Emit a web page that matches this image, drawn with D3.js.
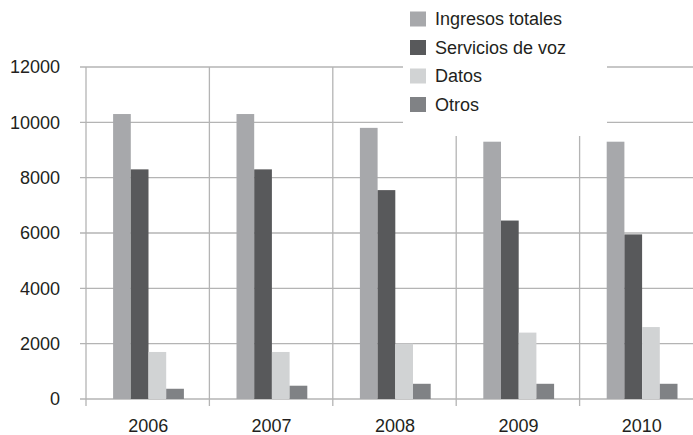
<!DOCTYPE html>
<html>
<head>
<meta charset="utf-8">
<script src="https://cdn.jsdelivr.net/npm/d3@7/dist/d3.min.js"></script>
<style>
  body { margin: 0; background: #fff; }
  svg text { font-family: "Liberation Sans", Arial, sans-serif; fill: #231f20; }
</style>
</head>
<body>
<div id="chart"></div>
<script>
// data
const years = ["2006", "2007", "2008", "2009", "2010"];
const seriesNames = ["Ingresos totales", "Servicios de voz", "Datos", "Otros"];
const ingresos = [10300, 10300, 9800, 9300, 9300];
const voz = [8300, 8300, 7550, 6450, 5950];
const datos = [1700, 1700, 2000, 2400, 2600];
const otros = [370, 480, 550, 550, 550];
const yTicks = [0, 2000, 4000, 6000, 8000, 10000, 12000];
const colors = ["#a7a8ab", "#58595b", "#d1d3d4", "#808285"];

const values = [ingresos, voz, datos, otros];
const width = 693, height = 435;

let svg = d3.select("#chart").append("svg")
    .attr("width", width)
    .attr("height", height);

let x = d3.scaleBand()
    .domain(years)
    .range([86, 703])
    .padding(0);

let y = d3.scaleLinear()
    .domain([0, 12000])
    .range([399, 67]);

// bars in a group are about 17.7px wide, 4 of them, centred in the band
let groupW = 70.8;
let xs = d3.scaleBand()
    .domain(seriesNames)
    .range([x.bandwidth() / 2 - groupW / 2 + 0.8, x.bandwidth() / 2 + groupW / 2 + 0.8]);

let gridColor = "#b4b4b4";

// horizontal grid
svg.selectAll("line.hgrid")
    .data(yTicks)
    .enter()
    .append("line")
    .attr("class", "hgrid")
    .attr("x1", 80)
    .attr("x2", width)
    .attr("y1", d => y(d))
    .attr("y2", d => y(d))
    .attr("stroke", gridColor)
    .attr("stroke-width", 1.3);

// vertical lines between categories
let bounds = years.map(d => x(d)).concat([x(years[years.length - 1]) + x.bandwidth()]);
svg.selectAll("line.vgrid")
    .data(bounds)
    .enter()
    .append("line")
    .attr("class", "vgrid")
    .attr("x1", d => d)
    .attr("x2", d => d)
    .attr("y1", y(12000))
    .attr("y2", y(0) + 7)
    .attr("stroke", gridColor)
    .attr("stroke-width", 1.3);

// legend sits on a white box that hides the grid behind it
svg.append("rect")
    .attr("x", 403)
    .attr("y", 0)
    .attr("width", 204)
    .attr("height", 136)
    .attr("fill", "#fff");

// bars
let groups = svg.selectAll("g.year")
    .data(years)
    .enter()
    .append("g")
    .attr("class", "year")
    .attr("transform", d => `translate(${x(d)},0)`);

groups.selectAll("rect")
    .data((d, i) => seriesNames.map((s, j) => ({ s: s, v: values[j][i], c: colors[j] })))
    .enter()
    .append("rect")
    .attr("x", d => xs(d.s))
    .attr("width", xs.bandwidth())
    .attr("y", d => y(d.v))
    .attr("height", d => y(0) - y(d.v))
    .attr("fill", d => d.c);

// y tick labels
svg.selectAll("text.ytick")
    .data(yTicks)
    .enter()
    .append("text")
    .attr("class", "ytick")
    .attr("x", 60)
    .attr("y", d => y(d))
    .attr("dy", "0.35em")
    .attr("text-anchor", "end")
    .style("font-size", "18px")
    .text(d => d);

// x labels
svg.selectAll("text.xtick")
    .data(years)
    .enter()
    .append("text")
    .attr("class", "xtick")
    .attr("x", d => x(d) + x.bandwidth() / 2 + 0.5)
    .attr("y", 431.5)
    .attr("text-anchor", "middle")
    .style("font-size", "18px")
    .text(d => d);

// legend
let legend = svg.selectAll("g.legend")
    .data(seriesNames)
    .enter()
    .append("g")
    .attr("class", "legend")
    .attr("transform", (d, i) => `translate(410,${19 + i * 28.5})`);

legend.append("rect")
    .attr("x", 0)
    .attr("y", -7.5)
    .attr("width", 16)
    .attr("height", 15)
    .attr("fill", (d, i) => colors[i]);

legend.append("text")
    .attr("x", 25)
    .attr("y", 0)
    .attr("dy", "0.36em")
    .style("font-size", "18px")
    .text(d => d);
</script>
</body>
</html>
